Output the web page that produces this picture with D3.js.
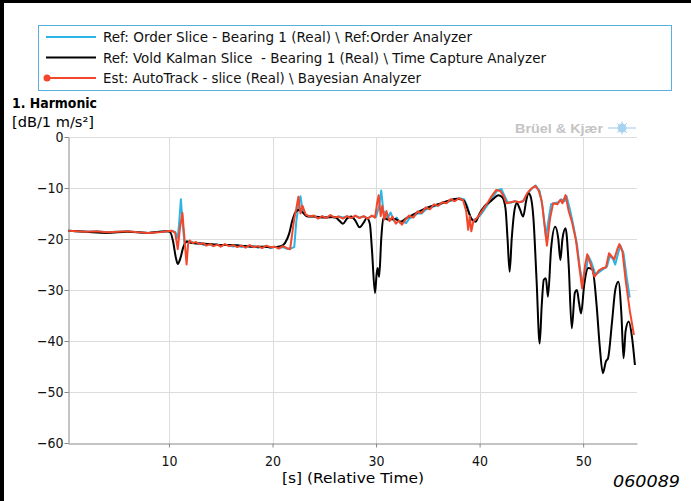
<!DOCTYPE html>
<meta charset="utf-8">
<script src="https://d3js.org/d3.v7.min.js"></script>
<body style="margin:0;background:#fff">
<svg width="691" height="501"></svg>
<script>

// ---- data ----
var xTicks = [10, 20, 30, 40, 50];
var yTicks = [0, -10, -20, -30, -40, -50, -60];

// Ref: Order Slice (cyan)
var tCyan = [0.3,1,2,3,4,5,6,7,8,9,9.8,10.3,10.6,10.85,11.0,11.15,11.35,11.5,11.7,11.9,12.2,12.6,13.0,13.4,13.8,14.2,14.6,15.0,15.4,15.8,16.2,16.6,17.0,17.4,17.8,18.2,18.6,19.0,19.4,19.8,20.2,20.6,21.0,21.4,21.8,22.1,22.3,22.5,22.7,22.9,23.2,23.6,24.0,24.4,24.8,25.2,25.6,26.0,26.4,26.8,27.2,27.6,28.0,28.4,28.8,29.2,29.6,30.0,30.3,30.5,30.7,30.9,31.1,31.4,31.7,32.0,32.3,32.6,32.9,33.2,33.6,34.0,34.4,34.8,35.2,35.6,36.0,36.4,36.8,37.2,37.6,38.0,38.5,38.8,39.1,39.4,39.7,40.0,40.4,40.8,41.2,41.7,42.1,42.4,42.7,43.0,43.4,43.8,44.2,44.6,45.0,45.4,45.8,46.1,46.4,46.6,46.9,47.2,47.6,47.9,48.2,48.4,48.7,49.0,49.4,49.7,50.0,50.3,50.5,50.8,51.2,51.6,52.0,52.3,52.6,52.9,53.1,53.4,53.6,53.9,54.2,54.5];
var vCyan = [-18.4,-18.5,-18.6,-18.5,-18.7,-18.6,-18.5,-18.7,-18.8,-18.6,-18.5,-18.4,-18.6,-19.8,-16.5,-12.2,-17.5,-21.0,-20.4,-20.7,-20.6,-20.9,-20.8,-21.2,-21.0,-21.3,-21.0,-21.4,-21.1,-21.3,-21.5,-21.2,-21.6,-21.3,-21.5,-21.4,-21.7,-21.5,-21.4,-21.8,-21.5,-21.7,-21.6,-21.9,-21.8,-21.6,-16.5,-13.5,-11.6,-14.5,-15.4,-15.6,-15.5,-15.9,-15.6,-15.8,-15.4,-15.9,-15.6,-15.8,-15.6,-15.9,-15.5,-15.8,-15.6,-15.9,-15.5,-15.7,-13.5,-10.5,-14.5,-15.0,-16.0,-14.8,-16.4,-15.8,-16.8,-16.5,-16.9,-16.0,-15.6,-15.0,-15.0,-14.2,-14.0,-13.6,-13.4,-13.0,-12.8,-12.5,-12.4,-12.0,-12.2,-13.5,-15.8,-16.3,-16.0,-15.5,-14.4,-13.2,-12.0,-10.5,-10.2,-11.5,-12.8,-12.9,-12.6,-12.8,-12.6,-11.2,-10.2,-9.5,-10.6,-14.0,-19.5,-17.0,-13.2,-13.0,-12.8,-12.2,-12.6,-11.6,-14.0,-16.8,-21.0,-26.0,-29.0,-26.0,-23.3,-24.6,-27.0,-26.4,-25.8,-25.4,-23.2,-24.0,-25.0,-22.6,-21.3,-22.8,-27.5,-31.5];

// Ref: Vold Kalman Slice (black)
var tBlack = [0.3,2,4,6,8,9.8,10.1,10.4,10.65,10.85,11.1,11.4,11.8,12.2,13,14,15,16,17,18,19,20,20.8,21.2,21.6,21.9,22.2,22.5,22.9,23.4,24,25,26,26.5,26.8,27.2,27.6,28.0,28.4,28.8,29.1,29.4,29.6,29.9,30.05,30.15,30.3,30.5,30.7,31.2,31.8,32.4,33.0,34,35,36,37,37.8,38.5,38.9,39.3,39.6,40.0,40.5,41.0,41.4,41.8,42.2,42.5,42.7,42.9,43.1,43.4,43.6,43.9,44.2,44.5,44.7,44.9,45.2,45.5,45.8,46.0,46.2,46.4,46.6,46.9,47.3,47.6,47.8,48.0,48.3,48.6,48.9,49.2,49.4,49.6,49.8,50.1,50.5,50.9,51.3,51.6,51.9,52.2,52.4,52.8,53.1,53.4,53.7,53.9,54.1,54.4,54.7,55.0];
var vBlack = [-18.4,-18.6,-18.8,-18.6,-18.8,-18.5,-18.6,-20.5,-23.5,-24.9,-23.8,-21.5,-20.5,-20.8,-20.9,-21.0,-21.2,-21.2,-21.3,-21.5,-21.5,-21.6,-21.4,-20.8,-19.0,-16.5,-14.8,-14.3,-14.8,-15.6,-15.6,-15.8,-15.7,-16.5,-17.0,-16.0,-15.6,-16.4,-17.7,-16.8,-15.9,-17.0,-22.0,-30.6,-27.0,-25.7,-27.4,-20.0,-15.9,-16.2,-16.1,-16.6,-15.8,-14.8,-13.8,-13.2,-12.5,-12.1,-12.5,-14.5,-16.3,-16.6,-15.0,-13.5,-12.7,-12.0,-11.4,-11.8,-14.0,-20.0,-26.4,-20.0,-14.0,-13.0,-14.2,-15.6,-12.5,-11.0,-11.5,-16.0,-28.0,-40.5,-33.0,-28.0,-27.7,-31.3,-22.0,-17.6,-20.0,-24.1,-20.0,-17.9,-25.0,-37.5,-30.5,-30.0,-32.5,-34.6,-29.0,-25.7,-26.0,-33.0,-41.0,-46.3,-44.0,-43.4,-36.0,-30.0,-28.4,-35.0,-43.4,-38.0,-36.2,-39.0,-44.7];

// Est: AutoTrack (red)
var tRed = [0.3,1,2,3,4,5,6,7,8,9,9.8,10.3,10.6,10.85,11.05,11.3,11.5,11.7,11.85,12.0,12.3,12.6,13.0,13.3,13.6,14.0,14.3,14.7,15.0,15.4,15.8,16.2,16.6,17.0,17.4,17.8,18.2,18.6,19.0,19.4,19.8,20.2,20.6,21.0,21.4,21.7,21.9,22.1,22.3,22.5,22.7,22.9,23.2,23.6,24.0,24.4,24.8,25.2,25.6,26.0,26.4,26.8,27.2,27.6,28.0,28.4,28.8,29.2,29.6,29.9,30.1,30.25,30.45,30.6,30.8,31.0,31.3,31.6,31.9,32.2,32.5,32.8,33.2,33.6,34.0,34.4,34.8,35.2,35.6,36.0,36.4,36.8,37.2,37.6,38.0,38.4,38.7,38.9,39.05,39.2,39.4,39.7,40.0,40.4,40.8,41.2,41.6,42.0,42.3,42.6,43.0,43.4,43.8,44.2,44.6,45.0,45.4,45.7,46.0,46.2,46.5,46.8,47.1,47.5,47.8,48.0,48.3,48.6,48.9,49.3,49.6,49.9,50.2,50.4,50.7,51.1,51.5,51.9,52.2,52.5,52.8,53.0,53.3,53.5,53.8,54.1,54.5,54.9];
var vRed = [-18.4,-18.5,-18.6,-18.5,-18.7,-18.6,-18.5,-18.7,-18.8,-18.7,-18.5,-18.4,-18.8,-22.0,-18.0,-14.9,-20.0,-25.0,-21.0,-20.3,-20.8,-20.6,-21.0,-20.8,-21.3,-21.0,-21.4,-21.1,-21.5,-21.0,-21.4,-21.2,-21.6,-21.3,-21.7,-21.2,-21.6,-21.4,-21.8,-21.3,-21.6,-21.5,-21.9,-21.4,-21.8,-22.0,-19.0,-16.0,-14.0,-11.7,-15.0,-13.5,-15.2,-15.6,-15.4,-16.0,-15.5,-15.9,-15.3,-15.8,-15.6,-16.0,-15.5,-15.9,-15.4,-15.9,-15.5,-16.0,-15.4,-15.8,-13.0,-11.4,-15.5,-13.5,-16.2,-14.5,-16.5,-15.6,-17.0,-16.4,-17.2,-16.3,-15.4,-15.8,-14.6,-14.9,-13.8,-14.2,-13.2,-13.5,-12.8,-13.0,-12.2,-12.6,-12.0,-12.4,-14.5,-18.2,-15.5,-18.5,-16.5,-16.0,-15.2,-14.0,-12.8,-11.5,-10.4,-10.6,-11.5,-13.0,-12.8,-12.6,-12.8,-12.6,-11.0,-10.1,-9.6,-10.5,-12.5,-16.0,-21.3,-16.0,-13.0,-13.2,-12.3,-13.0,-11.4,-14.5,-16.5,-20.2,-25.0,-29.7,-25.0,-23.0,-24.8,-27.4,-26.2,-25.7,-25.6,-22.8,-23.5,-24.0,-22.0,-21.0,-22.5,-28.0,-34.0,-38.8];

var legendLabels = [
  "Ref: Order Slice - Bearing 1 (Real) \\ Ref:Order Analyzer",
  "Ref: Vold Kalman Slice  - Bearing 1 (Real) \\ Time Capture Analyzer",
  "Est: AutoTrack - slice (Real) \\ Bayesian Analyzer"
];
var legendColors = ["#2bb5e6", "#000000", "#f2472b"];

// ---- layout ----
var svg = d3.select("svg");
var font = "Verdana, 'DejaVu Sans Condensed', sans-serif";
var plotLeft = 68, plotRight = 637, plotTop = 137, plotBottom = 443;

var x = d3.scaleLinear().domain([0.25, 55.2]).range([plotLeft, plotRight]);
var y = d3.scaleLinear().domain([-60, 0]).range([plotBottom, plotTop]);

// page frame (black edges on left and top)
svg.append("rect").attr("x", 0).attr("y", 0).attr("width", 4).attr("height", 501).attr("fill", "#000");
svg.append("rect").attr("x", 0).attr("y", 0).attr("width", 691).attr("height", 3).attr("fill", "#000");

// legend
var lg = svg.append("g");
lg.append("rect").attr("x", 38.5).attr("y", 25.5).attr("width", 633).attr("height", 65)
  .attr("fill", "none").attr("stroke", "#5aaedc").attr("stroke-width", 1);
var lgWidths = [369, 443, 318];
legendLabels.forEach(function(t, i) {
  var yy = 37 + i * 20.5;
  lg.append("line").attr("x1", 46).attr("x2", 96).attr("y1", yy).attr("y2", yy)
    .attr("stroke", legendColors[i]).attr("stroke-width", 2);
  if (i == 2) lg.append("circle").attr("cx", 47).attr("cy", yy).attr("r", 3.5).attr("fill", legendColors[i]);
  lg.append("text").attr("x", 103).attr("y", yy + 5).text(t)
    .attr("font-family", font).attr("font-size", "14.5px").attr("fill", "#111")
    .attr("textLength", lgWidths[i]).attr("lengthAdjust", "spacingAndGlyphs")
    .style("white-space", "pre");
});

// titles
svg.append("text").attr("x", 12).attr("y", 108).text("1. Harmonic")
  .attr("font-family", font).attr("font-weight", "bold").attr("font-size", "14px")
  .attr("textLength", 85).attr("lengthAdjust", "spacingAndGlyphs");
svg.append("text").attr("x", 12).attr("y", 127).text("[dB/1 m/s²]")
  .attr("font-family", font).attr("font-size", "14px")
  .attr("textLength", 82).attr("lengthAdjust", "spacingAndGlyphs");

// Brüel & Kjær mark
svg.append("text").attr("x", 515).attr("y", 133).text("Brüel & Kjær")
  .attr("font-family", "'Liberation Sans', Arial, sans-serif").attr("font-weight", "bold")
  .attr("font-size", "13px").attr("fill", "#c4c4c4")
  .attr("textLength", 88).attr("lengthAdjust", "spacingAndGlyphs");
var logo = svg.append("g").attr("transform", "translate(622,128)").attr("stroke", "#a9d2ee").attr("fill", "#a9d2ee");
logo.append("circle").attr("r", 4.5).attr("stroke", "none");
logo.append("line").attr("x1", -14).attr("x2", 14).attr("y1", 0).attr("y2", 0).attr("stroke-width", 1.2);
logo.append("line").attr("x1", 0).attr("x2", 0).attr("y1", -6.5).attr("y2", 6.5).attr("stroke-width", 1.2);
logo.append("line").attr("x1", -5).attr("x2", 5).attr("y1", -5).attr("y2", 5).attr("stroke-width", 1);
logo.append("line").attr("x1", -5).attr("x2", 5).attr("y1", 5).attr("y2", -5).attr("stroke-width", 1);

// grid
var grid = svg.append("g").attr("stroke", "#dcdcdc").attr("stroke-width", 1);
xTicks.forEach(function(d) {
  grid.append("line").attr("x1", Math.round(x(d)) + 0.5).attr("x2", Math.round(x(d)) + 0.5)
    .attr("y1", plotTop).attr("y2", plotBottom);
});
yTicks.forEach(function(d) {
  if (d == -60) return;
  grid.append("line").attr("x1", plotLeft).attr("x2", plotRight)
    .attr("y1", Math.round(y(d)) + 0.5).attr("y2", Math.round(y(d)) + 0.5);
});

// axes
var xAxis = svg.append("g").attr("transform", "translate(0," + (plotBottom + 0.5) + ")")
  .call(d3.axisBottom(x).tickValues(xTicks).tickSize(4).tickSizeOuter(0).tickPadding(9));
var yAxis = svg.append("g").attr("transform", "translate(" + (plotLeft + 0.5) + ",0)")
  .call(d3.axisLeft(y).tickValues(yTicks).tickSize(4).tickSizeOuter(0).tickPadding(1));
[xAxis, yAxis].forEach(function(a) {
  a.selectAll("path, line").attr("stroke", "#888");
  a.selectAll("text").attr("font-family", font).attr("font-size", "14px").attr("fill", "#111");
});

// axis titles
svg.append("text").attr("x", 353).attr("y", 483).attr("text-anchor", "middle")
  .text("[s] (Relative Time)").attr("font-family", font).attr("font-size", "14px")
  .attr("textLength", 142).attr("lengthAdjust", "spacingAndGlyphs");
svg.append("text").attr("x", 680).attr("y", 487).attr("text-anchor", "end")
  .text("060089").attr("font-family", font).attr("font-style", "italic").attr("font-size", "15px")
  .attr("textLength", 67).attr("lengthAdjust", "spacingAndGlyphs");

// series
var plot = svg.append("g");
function series(ts, vs, color, curve) {
  var pts = ts.map(function(t, i) { return [t, vs[i]]; });
  plot.append("path").datum(pts)
    .attr("fill", "none").attr("stroke", color).attr("stroke-width", 2).attr("stroke-linejoin", "round")
    .attr("d", d3.line().x(function(d) { return x(d[0]); }).y(function(d) { return y(d[1]); }).curve(curve));
}
series(tCyan, vCyan, legendColors[0], d3.curveLinear);
series(tBlack, vBlack, legendColors[1], d3.curveMonotoneX);
series(tRed, vRed, legendColors[2], d3.curveLinear);

</script>
</body>
